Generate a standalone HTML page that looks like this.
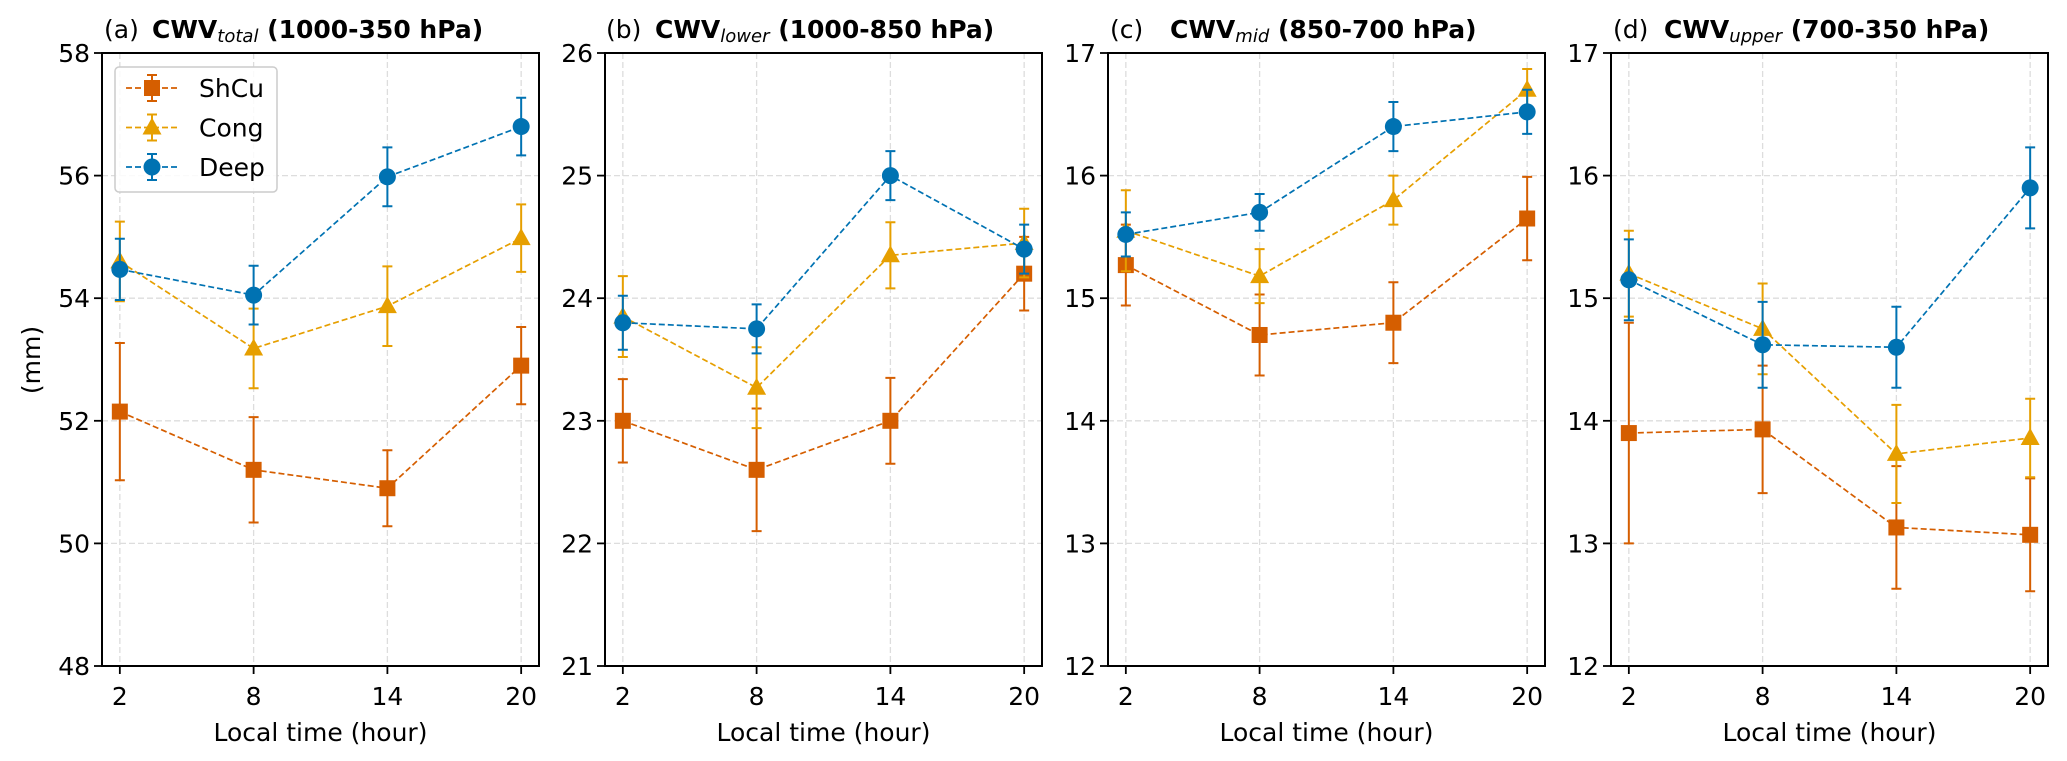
<!DOCTYPE html>
<html><head><meta charset="utf-8"><style>
html,body{margin:0;padding:0;background:#fff;}
svg{display:block;font-family:"DejaVu Sans","Liberation Sans",sans-serif;}
</style></head><body>
<svg id="fig" width="2067" height="761" xmlns="http://www.w3.org/2000/svg"></svg>
<script>
const hours = [2, 8, 14, 20];
const seriesNames = ["ShCu", "Cong", "Deep"];
// panel a
const aShCu = [52.15, 51.2, 50.9, 52.9];
const aShCuErr = [1.12, 0.86, 0.62, 0.63];
const aCong = [54.6, 53.18, 53.87, 54.98];
const aCongErr = [0.65, 0.65, 0.65, 0.55];
const aDeep = [54.47, 54.05, 55.98, 56.8];
const aDeepErr = [0.5, 0.48, 0.48, 0.47];
// panel b
const bShCu = [23.0, 22.6, 23.0, 24.2];
const bShCuErr = [0.34, 0.5, 0.35, 0.3];
const bCong = [23.85, 23.27, 24.35, 24.45];
const bCongErr = [0.33, 0.33, 0.27, 0.28];
const bDeep = [23.8, 23.75, 25.0, 24.4];
const bDeepErr = [0.22, 0.2, 0.2, 0.2];
// panel c
const cShCu = [15.27, 14.7, 14.8, 15.65];
const cShCuErr = [0.33, 0.33, 0.33, 0.34];
const cCong = [15.55, 15.18, 15.8, 16.7];
const cCongErr = [0.33, 0.22, 0.2, 0.17];
const cDeep = [15.52, 15.7, 16.4, 16.52];
const cDeepErr = [0.18, 0.15, 0.2, 0.18];
// panel d
const dShCu = [13.9, 13.93, 13.13, 13.07];
const dShCuErr = [0.9, 0.52, 0.5, 0.46];
const dCong = [15.2, 14.75, 13.73, 13.86];
const dCongErr = [0.35, 0.37, 0.4, 0.32];
const dDeep = [15.15, 14.62, 14.6, 15.9];
const dDeepErr = [0.33, 0.35, 0.33, 0.33];
const yTicksA = [48, 50, 52, 54, 56, 58];
const yTicksB = [21, 22, 23, 24, 25, 26];
const yTicksC = [12, 13, 14, 15, 16, 17];
const yTicksD = [12, 13, 14, 15, 16, 17];

const colors = ["#d55e00", "#e69f00", "#0072b2"];
const markers = ["square", "triangle", "circle"];
const NS = "http://www.w3.org/2000/svg";
const svg = document.getElementById("fig");
const FS = 25;
function mk(tag, attrs, parent) {
  const e = document.createElementNS(NS, tag);
  for (const k in attrs) e.setAttribute(k, attrs[k]);
  (parent || svg).appendChild(e);
  return e;
}
function marker(g, type, x, y, col) {
  let m;
  if (type === "square") m = mk("rect", {x: x - 8, y: y - 8, width: 16, height: 16, fill: col}, g);
  else if (type === "circle") m = mk("circle", {cx: x, cy: y, r: 8.5, fill: col}, g);
  else m = mk("polygon", {points: `${x},${y - 10} ${x - 9.5},${y + 7} ${x + 9.5},${y + 7}`, fill: col}, g);
  
  
}

const panels = [
  {id: "a", left: 102, ticks: yTicksA, data: [[aShCu, aShCuErr], [aCong, aCongErr], [aDeep, aDeepErr]], label: "(a)", sub: "total", rng: "(1000-350 hPa)", tx: 104, cx: 152},
  {id: "b", left: 605, ticks: yTicksB, data: [[bShCu, bShCuErr], [bCong, bCongErr], [bDeep, bDeepErr]], label: "(b)", sub: "lower", rng: "(1000-850 hPa)", tx: 606, cx: 655},
  {id: "c", left: 1108, ticks: yTicksC, data: [[cShCu, cShCuErr], [cCong, cCongErr], [cDeep, cDeepErr]], label: "(c)", sub: "mid", rng: "(850-700 hPa)", tx: 1110, cx: 1170},
  {id: "d", left: 1611, ticks: yTicksD, data: [[dShCu, dShCuErr], [dCong, dCongErr], [dDeep, dDeepErr]], label: "(d)", sub: "upper", rng: "(700-350 hPa)", tx: 1613, cx: 1664}
];
const axTop = 53, axBottom = 666, W = 437;

panels.forEach(p => {
  const g = mk("g", {});
  
  
  const y0 = p.ticks[0], y1 = p.ticks[p.ticks.length - 1];
  const X = h => p.left + (h - 1.2) / 19.6 * W;
  const Y = v => axBottom - (v - y0) / (y1 - y0) * (axBottom - axTop);
  hours.forEach(h => {
    const l = mk("line", {x1: X(h), x2: X(h), y1: axTop, y2: axBottom, stroke: "#dddddd", "stroke-width": 1.3, "stroke-dasharray": "6,3"}, g);
    
    
  });
  p.ticks.forEach(t => {
    const l = mk("line", {x1: p.left, x2: p.left + W, y1: Y(t), y2: Y(t), stroke: "#dddddd", "stroke-width": 1.3, "stroke-dasharray": "6,3"}, g);
    
    
    const tk = mk("line", {x1: p.left - 8, x2: p.left, y1: Y(t), y2: Y(t), stroke: "#000", "stroke-width": 1.8}, g);
    
    
    const tl = mk("text", {x: p.left - 12, y: Y(t) + 9, "text-anchor": "end", "font-size": FS}, g);
    tl.textContent = t;
    
    
  });
  hours.forEach(h => {
    const tk = mk("line", {x1: X(h), x2: X(h), y1: axBottom, y2: axBottom + 8, stroke: "#000", "stroke-width": 1.8}, g);
    
    
    const tl = mk("text", {x: X(h), y: axBottom + 39, "text-anchor": "middle", "font-size": FS}, g);
    tl.textContent = h;
    
    
  });
  p.data.forEach((s, i) => {
    const sg = mk("g", {}, g);
    
    
    const vals = s[0], errs = s[1], col = colors[i];
    const pl = mk("polyline", {points: vals.map((v, k) => X(hours[k]) + "," + Y(v)).join(" "), fill: "none", stroke: col, "stroke-width": 1.7, "stroke-dasharray": "6,3"}, sg);
    
    
    vals.forEach((v, k) => {
      const x = X(hours[k]), ya = Y(v + errs[k]), yb = Y(v - errs[k]);
      const eb = mk("path", {d: `M${x},${ya}V${yb}M${x - 5},${ya}H${x + 5}M${x - 5},${yb}H${x + 5}`, stroke: col, "stroke-width": 2, fill: "none"}, sg);
      
      
    });
    vals.forEach((v, k) => marker(sg, markers[i], X(hours[k]), Y(v), col));
  });
  const fr = mk("rect", {x: p.left, y: axTop, width: W, height: axBottom - axTop, fill: "none", stroke: "#000", "stroke-width": 2}, g);
  
  
  const t1 = mk("text", {x: p.tx, y: 38, "font-size": FS}, g);
  t1.textContent = p.label;
  
  
  const t2 = mk("text", {x: p.cx, y: 38, "font-size": FS, "font-weight": "bold"}, g);
  
  
  const ts1 = mk("tspan", {}, t2); ts1.textContent = "CWV";
  const ts2 = mk("tspan", {"font-weight": "normal", "font-style": "italic", "font-size": 18, dy: 4}, t2); ts2.textContent = p.sub;
  const ts3 = mk("tspan", {dy: -4}, t2); ts3.textContent = " " + p.rng;
  const xl = mk("text", {x: p.left + W / 2, y: 741, "text-anchor": "middle", "font-size": FS}, g);
  xl.textContent = "Local time (hour)";
  
  
});

const yl = mk("text", {x: 0, y: 0, "text-anchor": "middle", "font-size": FS, transform: "translate(40,360) rotate(-90)"});
yl.textContent = "(mm)";



const lg = mk("g", {});


mk("rect", {x: 115, y: 67, width: 162, height: 125, rx: 4, fill: "#fff", "fill-opacity": 0.85, stroke: "#cccccc", "stroke-width": 1.5}, lg);
seriesNames.forEach((n, i) => {
  const y = 88 + i * 39.5;
  const e = mk("g", {}, lg);
  
  
  mk("line", {x1: 126, x2: 178, y1: y, y2: y, stroke: colors[i], "stroke-width": 1.7, "stroke-dasharray": "6,3"}, e);
  mk("path", {d: `M152,${y - 13}V${y + 13}M147,${y - 13}H157M147,${y + 13}H157`, stroke: colors[i], "stroke-width": 2, fill: "none"}, e);
  marker(e, markers[i], 152, y, colors[i]);
  const t = mk("text", {x: 199, y: y + 9, "font-size": FS}, e);
  t.textContent = n;
});
</script>
</body></html>
